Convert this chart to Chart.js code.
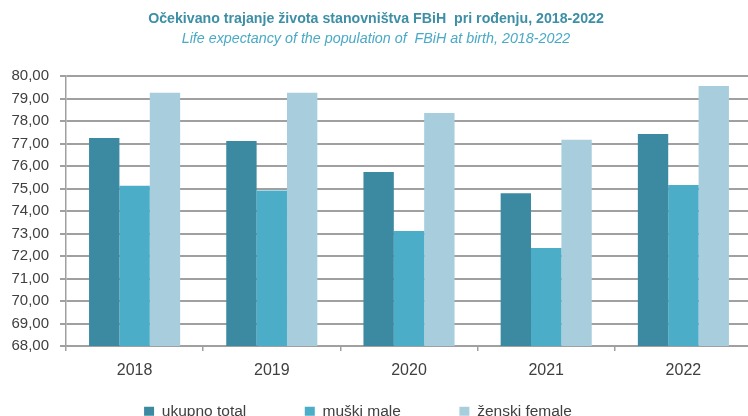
<!DOCTYPE html>
<html>
<head>
<meta charset="utf-8">
<script src="https://cdn.jsdelivr.net/npm/chart.js@4/dist/chart.umd.min.js"></script>
<style>
  html, body { margin: 0; padding: 0; background: #ffffff; overflow: hidden; }
  #wrap { width: 748px; height: 416px; overflow: hidden; position: relative; }
  #box { width: 756px; height: 416px; position: absolute; left: 0; top: 0; }
</style>
</head>
<body>
<div id="wrap"><div id="box"><canvas id="c" width="756" height="416"></canvas></div></div>
<script>
const titleLine1 = 'Očekivano trajanje života stanovništva FBiH  pri rođenju, 2018-2022';
const titleLine2 = 'Life expectancy of the population of  FBiH at birth, 2018-2022';
const years = ['2018', '2019', '2020', '2021', '2022'];
const seriesNames = ['ukupno total', 'muški male', 'ženski female'];
const totalValues = [77.25, 77.12, 75.74, 74.79, 77.43];
const maleValues = [75.13, 74.92, 73.12, 72.36, 75.16];
const femaleValues = [79.26, 79.26, 78.36, 77.17, 79.56];
const yMin = 68;
const yMax = 80;
const yStep = 1;

const legendTweak = {
  id: 'legendTweak',
  beforeInit(chart) {
    const lg = chart.legend;
    if (!lg) return;
    const origFit = lg.fit.bind(lg);
    lg.fit = function () { origFit(); this.height = 40; };
    lg.draw = function () {
      if (!this.options.display) return;
      const ctx = this.ctx;
      ctx.save();
      ctx.translate(-18, -31);
      this._draw();
      ctx.restore();
    };
  }
};

const gridGray = '#a0a0a0';
const textGray = '#404040';

new Chart(document.getElementById('c'), {
  type: 'bar',
  data: {
    labels: years,
    datasets: [
      { label: seriesNames[0], data: totalValues, backgroundColor: '#3b8aa1' },
      { label: seriesNames[1], data: maleValues, backgroundColor: '#4badc7' },
      { label: seriesNames[2], data: femaleValues, backgroundColor: '#a8cedd' }
    ]
  },
  options: {
    responsive: false,
    animation: false,
    devicePixelRatio: 1,
    layout: { padding: { left: 0, right: 4, top: 0, bottom: 0 } },
    datasets: { bar: { categoryPercentage: 0.664, barPercentage: 1.0 } },
    scales: {
      x: {
        afterFit(scale) { scale.height = 30; },
        grid: { display: true, drawOnChartArea: false, drawTicks: true, tickLength: 5, color: gridGray, lineWidth: 1.5, offset: true },
        border: { display: true, color: gridGray, width: 1.5 },
        ticks: { color: textGray, font: { family: 'Liberation Sans, Arial, sans-serif', size: 16 }, padding: 10 }
      },
      y: {
        min: yMin,
        max: yMax,
        afterFit(scale) { scale.width = 66; },
        grid: { color: gridGray, lineWidth: 2, tickLength: 6, drawTicks: true },
        border: { display: true, color: gridGray, width: 1.5 },
        ticks: {
          stepSize: yStep,
          color: textGray,
          padding: 11,
          font: { family: 'Liberation Sans, Arial, sans-serif', size: 15 },
          callback: (v) => Number(v).toFixed(2).replace('.', ',')
        }
      }
    },
    plugins: {
      title: {
        display: true,
        text: titleLine1,
        color: '#3d8fa6',
        font: { family: 'Liberation Sans, Arial, sans-serif', size: 14.2, weight: 'bold' },
        padding: { top: 11, bottom: 2 }
      },
      subtitle: {
        display: true,
        text: titleLine2,
        color: '#4aaac6',
        font: { family: 'Liberation Sans, Arial, sans-serif', size: 14.3, style: 'italic' },
        padding: { top: 0, bottom: 29 }
      },
      legend: {
        display: true,
        position: 'bottom',
        labels: {
          color: textGray,
          boxWidth: 10,
          boxHeight: 9,
          padding: 58.5,
          font: { family: 'Liberation Sans, Arial, sans-serif', size: 15.5 }
        }
      },
      tooltip: { enabled: false }
    }
  },
  plugins: [legendTweak]
});
</script>
</body>
</html>
